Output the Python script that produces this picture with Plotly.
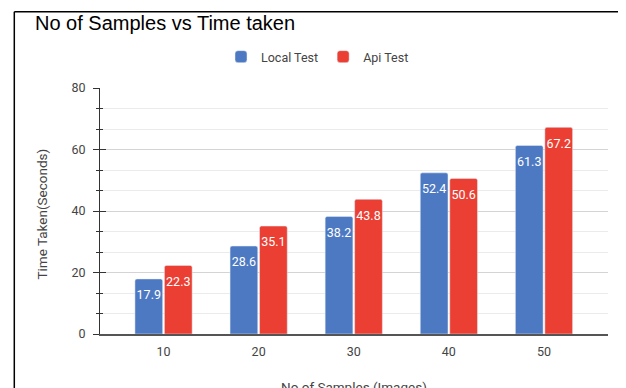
import plotly.graph_objects as go

categories = ["10", "20", "30", "40", "50"]
local_test = [17.9, 28.6, 38.2, 52.4, 61.3]
api_test = [22.3, 35.1, 43.8, 50.6, 67.2]
y_ticks = [0, 20, 40, 60, 80]

BLUE = "#4d79c2"
RED = "#eb3f33"
LABEL_FONT = "Roboto, Arial, sans-serif"

# the page body adds an 8px offset, so the figure is drawn 8px smaller
OFF = 8
W, H = 626 - OFF, 388 - OFF

fig = go.Figure()
for name, vals, col, grp in [("Local Test", local_test, BLUE, "a"), ("Api Test", api_test, RED, "b")]:
    fig.add_trace(go.Bar(
        name=name, x=categories, y=vals, offsetgroup=grp,
        marker=dict(color=col, cornerradius=2),
    ))
for name, vals, grp in [("Local Test", local_test, "a"), ("Api Test", api_test, "b")]:
    fig.add_trace(go.Scatter(
        x=categories, y=vals, offsetgroup=grp, mode="markers+text",
        marker=dict(size=16, color="rgba(0,0,0,0)"),
        text=[f"{v:.1f}" for v in vals], textposition="bottom center",
        textfont=dict(family=LABEL_FONT, size=12.5, color="white"),
        showlegend=False, hoverinfo="skip",
    ))
# helper trace so the overlaid tick axis (inside ticks) is drawn
fig.add_trace(go.Scatter(x=[], y=[], yaxis="y2", showlegend=False, hoverinfo="skip"))

# plot area in reference pixels: x 100..608, y 88..334
def px_x(p):
    return (p - 100) / 508.0

def px_y(p):
    return (334 - p) / 246.0

fig.update_layout(
    width=W, height=H,
    margin=dict(l=100 - OFF, r=18, t=88 - OFF, b=54, pad=0),
    paper_bgcolor="white", plot_bgcolor="white",
    barmode="group", bargap=0.38, bargroupgap=0.06,
    scattermode="group", scattergap=0.38,
    title=dict(text="No of Samples vs Time taken", x=(35 - OFF) / W, xanchor="left",
               xref="container", y=1 - (22.5 - OFF) / H, yanchor="middle", yref="container",
               font=dict(family="Liberation Sans, Arial, sans-serif", size=20, color="black")),
    legend=dict(orientation="h", x=px_x(221), xanchor="left", y=px_y(57), yanchor="middle",
                font=dict(family=LABEL_FONT, size=12.5, color="#444"),
                bgcolor="rgba(0,0,0,0)"),
    xaxis=dict(type="category", range=[-0.668, 4.673], showgrid=False,
               showline=True, linecolor="#555", linewidth=1.5,
               ticks="outside", ticklen=5, tickcolor="rgba(0,0,0,0)",
               tickfont=dict(family=LABEL_FONT, size=12.5, color="#444"), fixedrange=True),
    yaxis=dict(range=[0, 80], tickvals=y_ticks, showgrid=True, gridcolor="#d4d4d4", gridwidth=1,
               zeroline=False, showline=True, linecolor="#333", linewidth=1,
               ticks="outside", ticklen=6, tickcolor="#333", tickwidth=1,
               ticklabelstandoff=5,
               tickfont=dict(family=LABEL_FONT, size=12.5, color="#444"),
               minor=dict(dtick=20 / 3, tick0=0, ticks="outside", ticklen=3, tickcolor="#333",
                          showgrid=True, gridcolor="#ebebeb", gridwidth=1)),
    yaxis2=dict(overlaying="y", side="left", range=[0, 80], tickvals=y_ticks, showgrid=False,
                zeroline=False, showline=False, showticklabels=False,
                ticks="inside", ticklen=6, tickcolor="#333", tickwidth=1,
                minor=dict(dtick=20 / 3, tick0=0, ticks="inside", ticklen=3, tickcolor="#333",
                           showgrid=False)),
    annotations=[
        dict(text="Time Taken(Seconds)", textangle=-90, xref="paper", yref="paper",
             x=px_x(41.5), y=px_y(214), xanchor="center", yanchor="middle", showarrow=False,
             font=dict(family=LABEL_FONT, size=13.5, color="#444")),
        dict(text="No of Samples (Images)", xref="paper", yref="paper",
             x=0.5, y=px_y(377), xanchor="center", yanchor="top", showarrow=False,
             font=dict(family=LABEL_FONT, size=13.5, color="#444")),
    ],
    shapes=[
        dict(type="line", xref="paper", yref="paper", x0=px_x(14.3), x1=px_x(14.3),
             y0=px_y(11.7), y1=px_y(400), line=dict(color="black", width=1.5)),
        dict(type="line", xref="paper", yref="paper", x0=px_x(14.3), x1=px_x(640),
             y0=px_y(11.7), y1=px_y(11.7), line=dict(color="black", width=1.5)),
    ],
)

fig.write_html("out.html")
